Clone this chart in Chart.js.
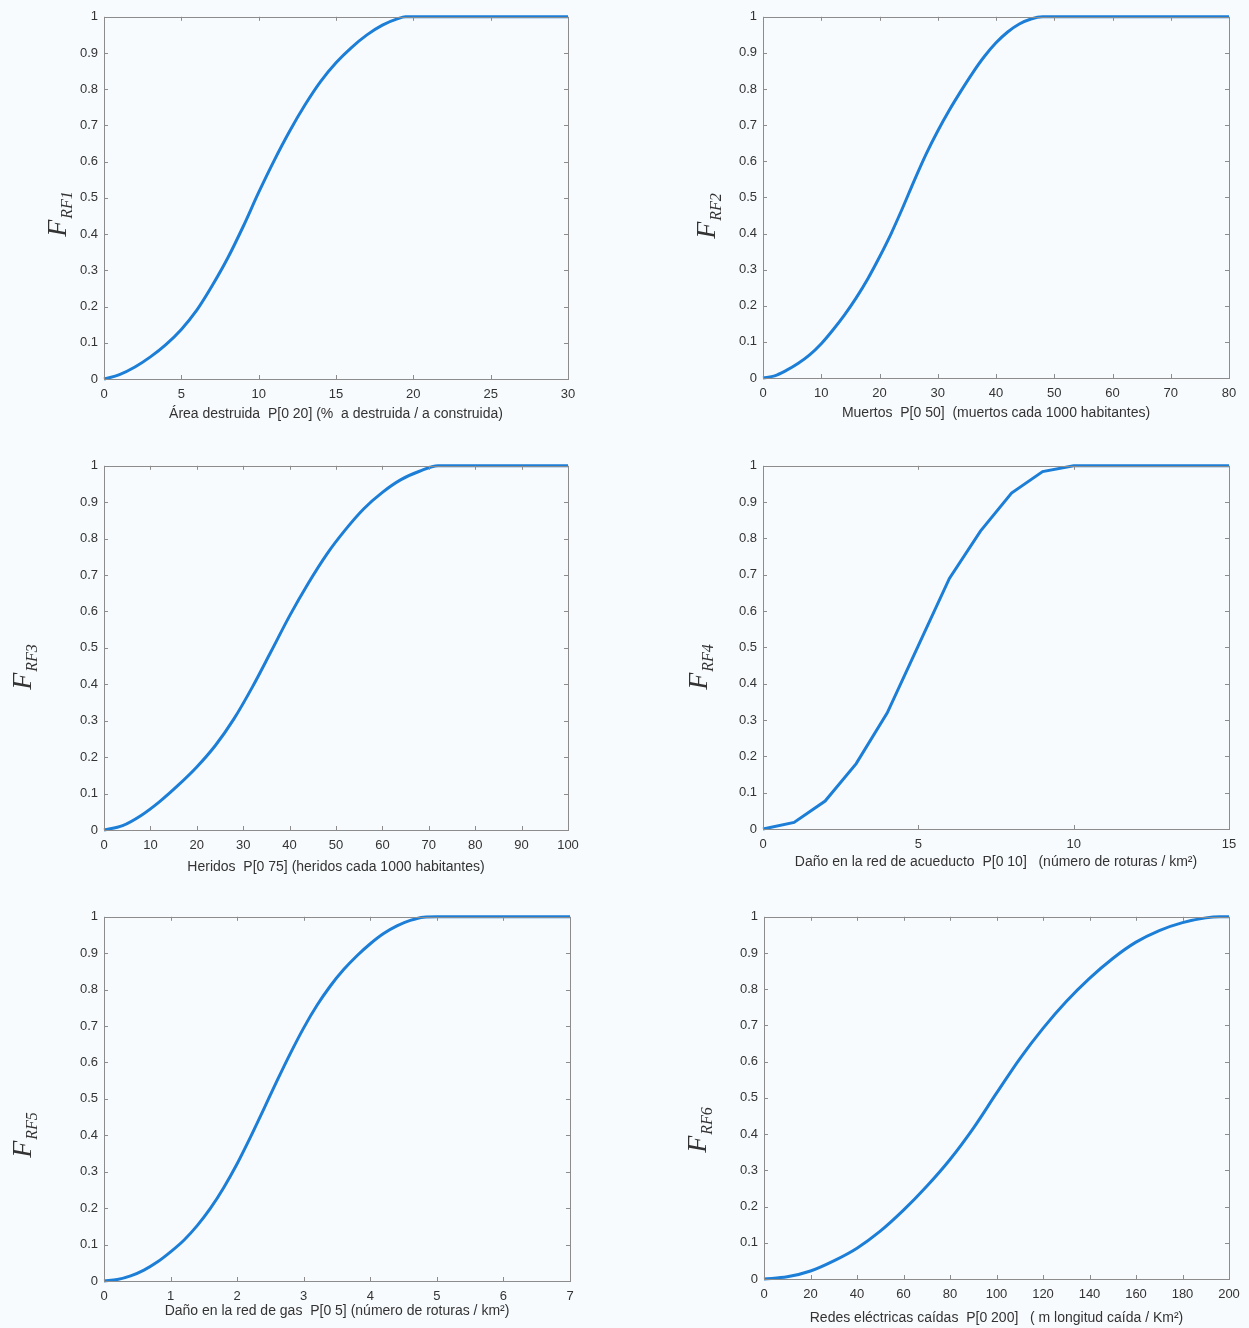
<!DOCTYPE html>
<html>
<head>
<meta charset="utf-8">
<script src="https://cdn.jsdelivr.net/npm/chart.js@4.4.1/dist/chart.umd.min.js"></script>
<style>
    html, body { margin: 0; padding: 0; background: #f8fbfd; }
    body { width: 1249px; height: 1328px; position: relative; overflow: hidden; }
    canvas { position: absolute; }
</style>
</head>
<body>
<canvas id="rf1"></canvas>
<canvas id="rf2"></canvas>
<canvas id="rf3"></canvas>
<canvas id="rf4"></canvas>
<canvas id="rf5"></canvas>
<canvas id="rf6"></canvas>
<script>
// Shared y ticks
const yTicks = [0, 0.1, 0.2, 0.3, 0.4, 0.5, 0.6, 0.7, 0.8, 0.9, 1];

// RF1 - area destruida
const xArea = [0, 1, 2, 3, 4, 5, 6, 7, 8, 9, 10, 11, 12, 13, 14, 15, 16, 17, 18, 19, 19.5, 20, 30];
const yArea = [0, 0.012, 0.033, 0.061, 0.095, 0.137, 0.19, 0.258, 0.334, 0.421, 0.515, 0.603, 0.684, 0.757, 0.821, 0.873, 0.915, 0.95, 0.977, 0.995, 1, 1, 1];
const xTicksArea = [0, 5, 10, 15, 20, 25, 30];

// RF2 - muertos
const xMuertos = [0, 2, 4, 6, 8, 10, 12, 14, 16, 18, 20, 22, 24, 26, 28, 30, 32, 34, 36, 38, 40, 42, 44, 46, 48, 50, 80];
const yMuertos = [0, 0.006, 0.021, 0.04, 0.064, 0.095, 0.133, 0.175, 0.222, 0.275, 0.335, 0.4, 0.472, 0.548, 0.62, 0.684, 0.742, 0.795, 0.845, 0.89, 0.928, 0.958, 0.98, 0.994, 1, 1, 1];
const xTicksMuertos = [0, 10, 20, 30, 40, 50, 60, 70, 80];

// RF3 - heridos
const xHeridos = [0, 4, 8, 12, 16, 20, 24, 28, 32, 36, 40, 44, 48, 52, 56, 60, 64, 68, 72, 75, 100];
const yHeridos = [0, 0.012, 0.04, 0.078, 0.123, 0.173, 0.232, 0.305, 0.393, 0.49, 0.588, 0.677, 0.757, 0.824, 0.882, 0.927, 0.962, 0.985, 1, 1, 1];
const xTicksHeridos = [0, 10, 20, 30, 40, 50, 60, 70, 80, 90, 100];

// RF4 - red de acueducto
const xAcueducto = [0, 1, 2, 3, 4, 5, 6, 7, 8, 9, 10, 15];
const yAcueducto = [0, 0.018, 0.077, 0.18, 0.32, 0.505, 0.69, 0.82, 0.925, 0.984, 1, 1];
const xTicksAcueducto = [0, 5, 10, 15];

// RF5 - red de gas
const xGas = [0, 0.2, 0.4, 0.6, 0.8, 1.0, 1.2, 1.4, 1.6, 1.8, 2.0, 2.2, 2.4, 2.6, 2.8, 3.0, 3.2, 3.4, 3.6, 3.8, 4.0, 4.2, 4.4, 4.6, 4.8, 5, 7];
const yGas = [0, 0.004, 0.014, 0.03, 0.052, 0.08, 0.112, 0.152, 0.2, 0.257, 0.322, 0.395, 0.472, 0.55, 0.625, 0.695, 0.757, 0.81, 0.855, 0.893, 0.926, 0.954, 0.975, 0.99, 0.999, 1, 1];
const xTicksGas = [0, 1, 2, 3, 4, 5, 6, 7];

// RF6 - redes electricas
const xElectricas = [0, 10, 20, 30, 40, 50, 60, 70, 80, 90, 100, 110, 120, 130, 140, 150, 160, 170, 180, 190, 196, 200];
const yElectricas = [0, 0.006, 0.022, 0.05, 0.085, 0.132, 0.19, 0.256, 0.33, 0.416, 0.513, 0.608, 0.692, 0.766, 0.83, 0.885, 0.93, 0.962, 0.984, 0.997, 1, 1];
const xTicksElectricas = [0, 20, 40, 60, 80, 100, 120, 140, 160, 180, 200];

const LINE = '#1c7ed6';
const FRAME = '#8c8c8c';
const TEXT = '#333333';

// plot box in page pixels, plus where the rotated F label sits
const panels = [
    { id: 'rf1', sub: 'RF1', xs: xArea, ys: yArea, ticks: xTicksArea, max: 30, smooth: true,
      box: [104, 13, 568, 379], yLabel: [57, 214], xTitle: 'Área destruida  P[0 20] (%  a destruida / a construida)', xTitleY: 414 },
    { id: 'rf2', sub: 'RF2', xs: xMuertos, ys: yMuertos, ticks: xTicksMuertos, max: 80, smooth: true,
      box: [763, 13, 1229, 378], yLabel: [706, 216], xTitle: 'Muertos  P[0 50]  (muertos cada 1000 habitantes)', xTitleY: 413 },
    { id: 'rf3', sub: 'RF3', xs: xHeridos, ys: yHeridos, ticks: xTicksHeridos, max: 100, smooth: true,
      box: [104, 462, 568, 830], yLabel: [22, 667], xTitle: 'Heridos  P[0 75] (heridos cada 1000 habitantes)', xTitleY: 867 },
    { id: 'rf4', sub: 'RF4', xs: xAcueducto, ys: yAcueducto, ticks: xTicksAcueducto, max: 15, smooth: false,
      box: [763, 462, 1229, 829], yLabel: [698, 667], xTitle: 'Daño en la red de acueducto  P[0 10]   (número de roturas / km²)', xTitleY: 862 },
    { id: 'rf5', sub: 'RF5', xs: xGas, ys: yGas, ticks: xTicksGas, max: 7, smooth: true,
      box: [104, 913, 570, 1281], yLabel: [22, 1135], xTitle: 'Daño en la red de gas  P[0 5] (número de roturas / km²)', xTitleY: 1311 },
    { id: 'rf6', sub: 'RF6', xs: xElectricas, ys: yElectricas, ticks: xTicksElectricas, max: 200, smooth: true,
      box: [764, 913, 1229, 1279], yLabel: [697, 1130], xTitle: 'Redes eléctricas caídas  P[0 200]   ( m longitud caída / Km²)', xTitleY: 1318 }
];

const PAD_L = 100, PAD_R = 20, PAD_T = 10, PAD_B = 50;

// MATLAB-style box with inward ticks on all four sides, plus the F_RFn label
const framePlugin = {
    id: 'frame',
    afterDatasetsDraw(chart, args, opts) {
        const { ctx, chartArea: a, scales } = chart;
        const t = 4;
        ctx.save();
        ctx.strokeStyle = FRAME;
        ctx.lineWidth = 1;
        ctx.beginPath();
        scales.x.ticks.forEach(tk => {
            const px = Math.round(scales.x.getPixelForValue(tk.value)) + 0.5;
            ctx.moveTo(px, a.bottom); ctx.lineTo(px, a.bottom - t);
            ctx.moveTo(px, a.top); ctx.lineTo(px, a.top + t);
        });
        scales.y.ticks.forEach(tk => {
            const py = Math.round(scales.y.getPixelForValue(tk.value)) + 0.5;
            ctx.moveTo(a.left, py); ctx.lineTo(a.left + t, py);
            ctx.moveTo(a.right, py); ctx.lineTo(a.right - t, py);
        });
        ctx.stroke();
        ctx.strokeRect(Math.round(a.left) + 0.5, Math.round(a.top) + 0.5,
            Math.round(a.right - a.left), Math.round(a.bottom - a.top));
        ctx.restore();
    },
    afterDraw(chart, args, opts) {
        const { ctx, chartArea: a } = chart;
        ctx.save();
        // F with subscript, rotated
        ctx.translate(opts.lx, opts.ly);
        ctx.rotate(-Math.PI / 2);
        ctx.fillStyle = TEXT;
        ctx.textBaseline = 'alphabetic';
        const bigFont = 'italic 28px "Liberation Serif", "DejaVu Serif", serif';
        const smallFont = 'italic 16px "Liberation Serif", "DejaVu Serif", serif';
        ctx.font = bigFont;
        const wF = ctx.measureText('F').width;
        ctx.font = smallFont;
        const wS = ctx.measureText(opts.sub).width;
        const x0 = -(wF + wS + 1) / 2;
        ctx.font = bigFont;
        ctx.fillText('F', x0, 9);
        ctx.font = smallFont;
        ctx.fillText(opts.sub, x0 + wF + 1, 15);
        ctx.restore();

        // x axis title
        ctx.save();
        ctx.fillStyle = TEXT;
        ctx.font = '14px "Liberation Sans", Arial, sans-serif';
        ctx.textAlign = 'center';
        ctx.textBaseline = 'middle';
        ctx.fillText(opts.xTitle, (a.left + a.right) / 2, opts.ty);
        ctx.restore();
    }
};

function fixedTicks(list) {
    return function(scale) {
        scale.ticks = list.map(v => ({ value: v }));
    };
}

panels.forEach(p => {
    const [l, t, r, b] = p.box;
    const canvas = document.getElementById(p.id);
    const left = l - PAD_L, top = t - PAD_T;
    const w = (r - l) + PAD_L + PAD_R;
    const h = (b - t) + PAD_T + PAD_B;
    canvas.style.left = left + 'px';
    canvas.style.top = top + 'px';
    canvas.style.width = w + 'px';
    canvas.style.height = h + 'px';
    canvas.width = w;
    canvas.height = h;

    new Chart(canvas.getContext('2d'), {
        type: 'line',
        data: {
            datasets: [{
                data: p.xs.map((x, i) => ({ x: x, y: p.ys[i] })),
                borderColor: LINE,
                borderWidth: 3,
                pointRadius: 0,
                fill: false,
                cubicInterpolationMode: p.smooth ? 'monotone' : 'default',
                tension: 0,
                clip: 4
            }]
        },
        options: {
            responsive: false,
            animation: false,
            events: [],
            layout: { padding: { left: 0, right: PAD_R, top: PAD_T, bottom: 0 } },
            scales: {
                x: {
                    type: 'linear',
                    min: 0,
                    max: p.max,
                    afterBuildTicks: fixedTicks(p.ticks),
                    afterFit: s => { s.height = PAD_B; },
                    grid: { display: false, drawTicks: false },
                    border: { display: false },
                    ticks: {
                        color: TEXT,
                        padding: 8,
                        maxRotation: 0,
                        autoSkip: false,
                        font: { family: '"Liberation Sans", Arial, sans-serif', size: 13 },
                        callback: v => String(v)
                    }
                },
                y: {
                    min: 0,
                    max: 1,
                    afterBuildTicks: fixedTicks(yTicks),
                    afterFit: s => { s.width = PAD_L; },
                    grid: { display: false, drawTicks: false },
                    border: { display: false },
                    ticks: {
                        color: TEXT,
                        padding: 6,
                        autoSkip: false,
                        font: { family: '"Liberation Sans", Arial, sans-serif', size: 13 },
                        callback: v => String(v)
                    }
                }
            },
            plugins: {
                legend: { display: false },
                tooltip: { enabled: false },
                frame: {
                    sub: p.sub,
                    lx: p.yLabel[0] - left,
                    ly: p.yLabel[1] - top,
                    xTitle: p.xTitle,
                    ty: p.xTitleY - top
                }
            }
        },
        plugins: [framePlugin]
    });
});
</script>
</body>
</html>
